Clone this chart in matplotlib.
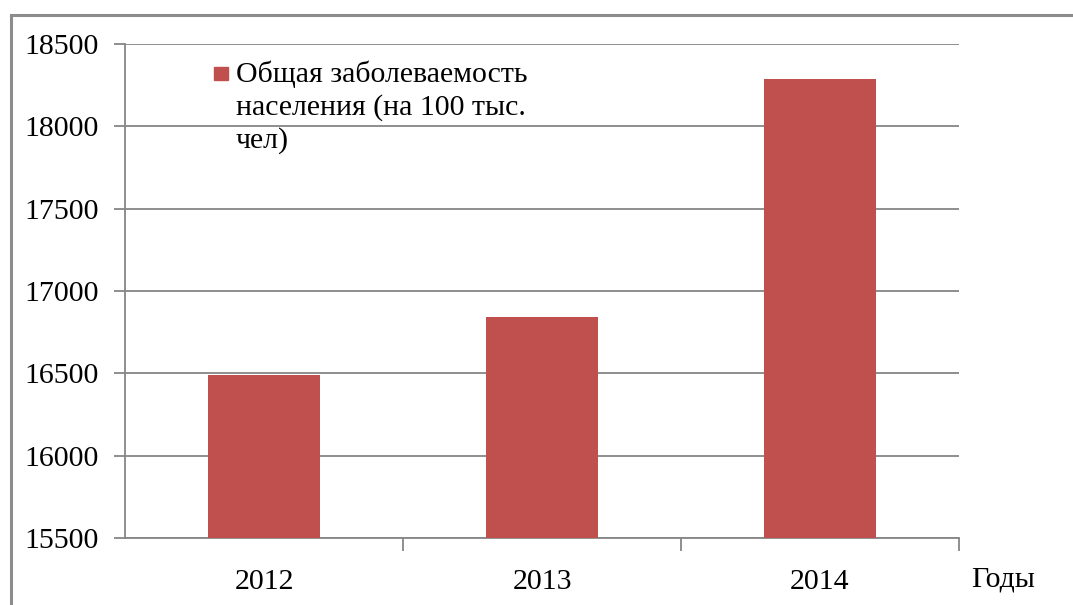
import matplotlib
matplotlib.use("Agg")
import matplotlib.pyplot as plt
from matplotlib.patches import Rectangle

# data
years = ["2012", "2013", "2014"]
values = [16488, 16840, 18287]
series_name = "Общая заболеваемость\nнаселения (на 100 тыс.\nчел)"
yticks = [15500, 16000, 16500, 17000, 17500, 18000, 18500]

plt.rcParams["font.family"] = ["Liberation Serif", "DejaVu Serif"]

W, H = 1073, 605
FS = 21.5
fig = plt.figure(figsize=(W / 100, H / 100), dpi=100)
ax = fig.add_axes([125 / W, 1 - 538 / H, (959 - 125) / W, (538 - 44) / H])

bar_color = "#C0504D"
grid_color = "#868686"

x = range(len(years))
ax.bar(x, values, width=0.4, color=bar_color, bottom=0, zorder=3)
ax.set_xlim(-0.5, len(years) - 0.5)
ax.set_ylim(15500, 18500)
ax.set_yticks(yticks)
ax.set_yticklabels([str(t) for t in yticks], fontsize=FS)
ax.set_xticks(list(x))
ax.set_xticklabels(years, fontsize=FS)
ax.tick_params(axis="x", length=0, pad=22)
ax.tick_params(axis="y", length=8, width=1.3, color=grid_color, pad=11)
# category separators below axis
ax.set_xticks([i + 0.5 for i in range(len(years))], minor=True)
ax.tick_params(axis="x", which="minor", length=9, width=1.3, color=grid_color)

ax.grid(axis="y", color=grid_color, linewidth=1.3, zorder=0)
for s in ["top", "right"]:
    ax.spines[s].set_visible(False)
ax.spines["left"].set_color(grid_color)
ax.spines["left"].set_linewidth(1.3)
ax.spines["bottom"].set_color(grid_color)
ax.spines["bottom"].set_linewidth(1.3)

ax.text(1.015, -0.085, "Годы", transform=ax.transAxes, fontsize=FS,
        ha="left", va="center")

# legend
ax.add_patch(Rectangle((214 / W, 1 - 80 / H), 14 / W, 13 / H,
                       transform=fig.transFigure, color=bar_color, clip_on=False))
fig.text(236 / W, 1 - 61 / H, series_name, fontsize=FS, ha="left", va="top",
         linespacing=1.28)

# outer frame (only top and left visible)
fig.add_artist(Rectangle((11 / W, -0.1), 1.2, 1 - 15 / H + 0.1,
                         transform=fig.transFigure, fill=False,
                         edgecolor="#8C8C8C", linewidth=2.2))

fig.savefig("out.png", dpi=100)
